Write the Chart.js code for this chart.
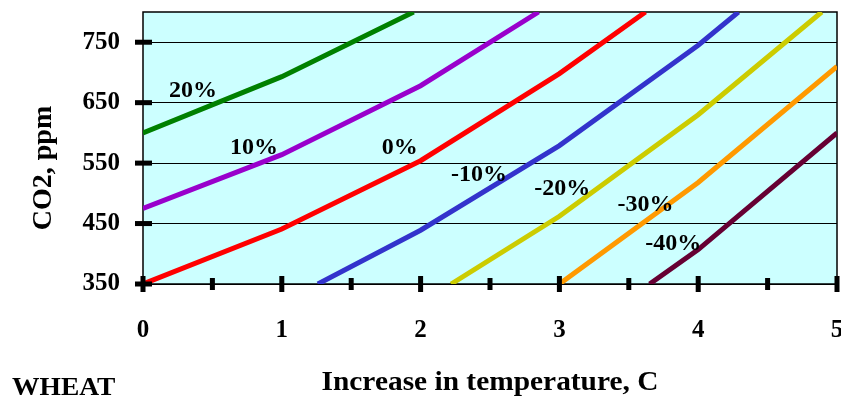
<!DOCTYPE html>
<html>
<head>
<meta charset="utf-8">
<script src="https://cdn.jsdelivr.net/npm/chart.js@4.4.1/dist/chart.umd.min.js"></script>
<style>
  html, body { margin: 0; padding: 0; background: #fff; }
  #wrap { width: 841px; height: 402px; }
</style>
</head>
<body>
<div id="wrap"><canvas id="chart"></canvas></div>
<script>
// CO2 (ppm) needed for a given wheat yield change vs temperature increase
const tempTicks = [0, 1, 2, 3, 4, 5];
const tempMinorTicks = [0.5, 1.5, 2.5, 3.5, 4.5];
const co2Ticks = [350, 450, 550, 650, 750];

const curveLabels = ['20%', '10%', '0%', '-10%', '-20%', '-30%', '-40%'];

const temp20 = [0, 1, 1.95];
const co2_20 = [600, 693, 800];
const temp10 = [0, 1, 2, 2.85];
const co2_10 = [475, 564, 678, 800];
const temp0 = [0, 1, 2, 3, 3.62];
const co2_0 = [350, 441, 554, 698, 800];
const tempM10 = [1.26, 2, 3, 4, 4.29];
const co2_M10 = [350, 439, 579, 745, 800];
const tempM20 = [2.22, 3, 4, 4.89];
const co2_M20 = [350, 462, 630, 800];
const tempM30 = [3, 4, 5];
const co2_M30 = [350, 518, 710];
const tempM40 = [3.65, 4, 5];
const co2_M40 = [350, 407, 600];

// where the percentage labels sit (data units)
const labelTemp = [0.36, 0.80, 1.85, 2.42, 3.02, 3.62, 3.82];
const labelCo2 = [669, 575, 576, 530, 507, 481, 417];

const curveColors = ['#008000', '#9900CC', '#FF0000', '#3333CC', '#CCCC00', '#FF9900', '#660033'];
const FONT = '"Liberation Serif", "Times New Roman", serif';

const allTemps = [temp20, temp10, temp0, tempM10, tempM20, tempM30, tempM40];
const allCo2 = [co2_20, co2_10, co2_0, co2_M10, co2_M20, co2_M30, co2_M40];

const datasets = allTemps.map((xs, i) => ({
  label: curveLabels[i],
  data: xs.map((x, j) => ({ x: x, y: allCo2[i][j] })),
  borderColor: curveColors[i],
  borderWidth: 5,
  pointRadius: 0,
  tension: 0,
  fill: false
}));

// source text is drawn a little wide
function wideText(ctx, text, x, y, sx) {
  ctx.save();
  ctx.translate(x, y);
  ctx.scale(sx, 1);
  ctx.fillText(text, 0, 0);
  ctx.restore();
}

function noPad(s) {
  s.paddingTop = 0;
  s.paddingBottom = 0;
  s.paddingLeft = 0;
  s.paddingRight = 0;
}

const framePlugin = {
  id: 'frame',
  beforeDraw(chart) {
    const { ctx, chartArea: a } = chart;
    ctx.save();
    ctx.fillStyle = '#CCFFFF';
    ctx.fillRect(a.left, a.top, a.right - a.left, a.bottom - a.top);
    ctx.restore();
  },
  beforeDatasetsDraw(chart) {
    const { ctx, chartArea: a } = chart;
    ctx.save();
    ctx.strokeStyle = '#000';
    ctx.lineWidth = 1.5;
    ctx.strokeRect(a.left, a.top, a.right - a.left, a.bottom - a.top);
    ctx.restore();
  },
  afterDatasetsDraw(chart) {
    const { ctx, chartArea: a, scales } = chart;
    const xs = scales.x, ys = scales.y;
    ctx.save();
    ctx.fillStyle = '#000';
    // tick marks crossing the axes
    co2Ticks.forEach(v => {
      const y = ys.getPixelForValue(v);
      ctx.fillRect(a.left - 8, y - 2.5, 17, 5);
    });
    tempTicks.forEach(v => {
      const x = xs.getPixelForValue(v);
      ctx.fillRect(x - 2.5, a.bottom - 8, 5, 16);
    });
    tempMinorTicks.forEach(v => {
      const x = xs.getPixelForValue(v);
      ctx.fillRect(x - 2.5, a.bottom - 6, 5, 12);
    });
    // curve labels
    ctx.font = 'bold 24px ' + FONT;
    ctx.textAlign = 'center';
    ctx.textBaseline = 'middle';
    curveLabels.forEach((t, i) => {
      ctx.fillText(t, xs.getPixelForValue(labelTemp[i]), ys.getPixelForValue(labelCo2[i]));
    });
    ctx.restore();
  },
  afterDraw(chart) {
    const { ctx, chartArea: a } = chart;
    ctx.save();
    ctx.fillStyle = '#000';
    ctx.textBaseline = 'middle';
    ctx.font = 'bold 28px ' + FONT;
    ctx.textAlign = 'center';
    wideText(ctx, 'Increase in temperature, C', (a.left + a.right) / 2, 383, 1.05);
    ctx.save();
    ctx.translate(44, 168);
    ctx.rotate(-Math.PI / 2);
    ctx.font = 'bold 28px ' + FONT;
    ctx.fillText('CO2, ppm', 0, 0);
    ctx.restore();
    ctx.font = 'bold 25px ' + FONT;
    ctx.textAlign = 'left';
    wideText(ctx, 'WHEAT', 12, 389, 1.1);
    ctx.restore();
  }
};

new Chart(document.getElementById('chart'), {
  type: 'line',
  data: { datasets: datasets },
  options: {
    responsive: true,
    maintainAspectRatio: false,
    animation: false,
    layout: { padding: { top: 12, right: 4, left: 0, bottom: 0 } },
    plugins: { legend: { display: false }, tooltip: { enabled: false } },
    scales: {
      x: {
        type: 'linear',
        min: 0,
        max: 5,
        afterBuildTicks: s => { s.ticks = tempTicks.map(v => ({ value: v })); },
        afterFit: s => { s.height = 118; noPad(s); },
        ticks: { color: '#000', padding: 32, font: { family: FONT, size: 25, weight: 'bold' } },
        grid: { display: false, drawTicks: false },
        border: { display: false }
      },
      y: {
        min: 350,
        max: 800,
        afterBuildTicks: s => { s.ticks = co2Ticks.map(v => ({ value: v })); },
        afterFit: s => { s.width = 143; noPad(s); },
        ticks: { color: '#000', padding: 23, font: { family: FONT, size: 25, weight: 'bold' } },
        grid: { color: '#000', lineWidth: 1, drawTicks: false },
        border: { display: false }
      }
    }
  },
  plugins: [framePlugin]
});
</script>
</body>
</html>
